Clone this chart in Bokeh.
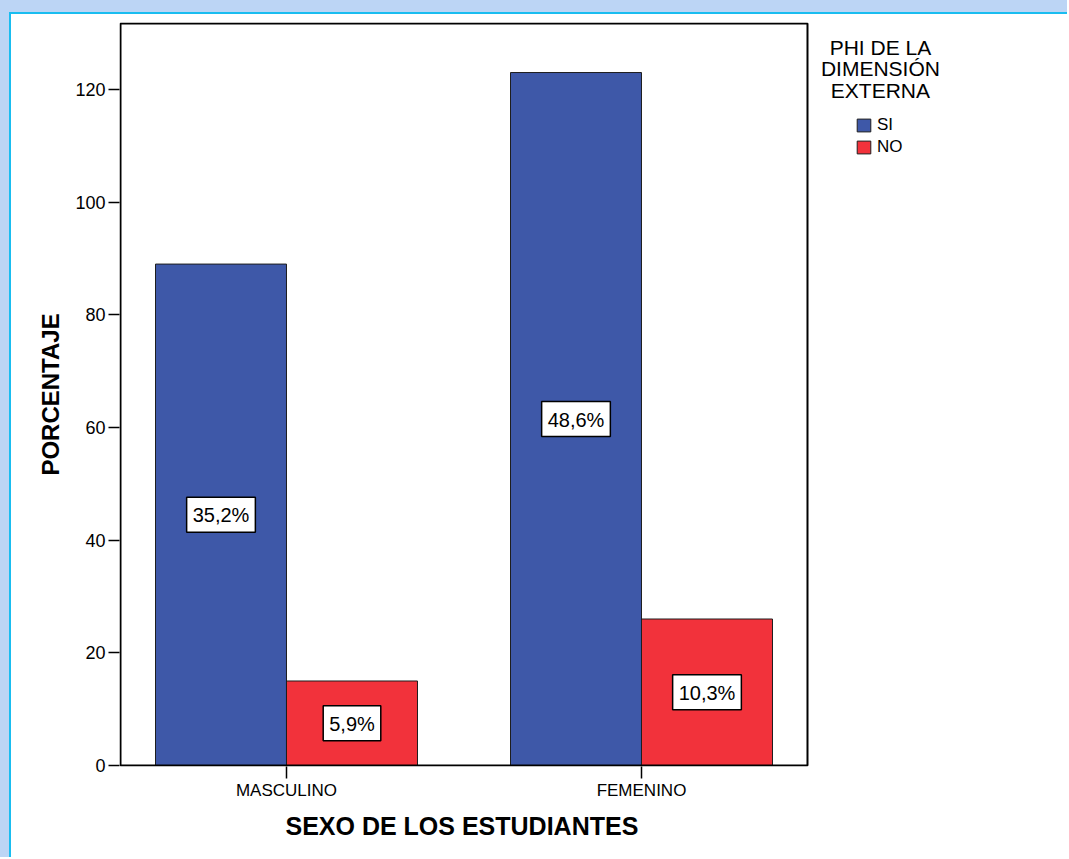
from bokeh.plotting import figure
from bokeh.models import (Range1d, FixedTicker, ColumnDataSource, Label,
                          Legend, LegendItem, Title)
from bokeh.core.properties import value
from bokeh.layouts import column
from bokeh.embed import file_html
from bokeh.resources import INLINE

# ---- data ----
categorias = ["MASCULINO", "FEMENINO"]
si = [89, 123]
no = [15, 26]
etiquetas_si = ["35,2%", "48,6%"]
etiquetas_no = ["5,9%", "10,3%"]
y_ticks = [0, 20, 40, 60, 80, 100, 120]

FONT = "Liberation Sans"
BLUE = "#3e58a8"
RED = "#f2323b"

pos = list(range(len(categorias)))
w = 0.369

# visible plotting box (data units) and pixel scale
X0, X1 = -0.4676, 1.4676
YTOP = 131.7
KX = 355.0          # px per x unit
KY = 742.0 / YTOP   # px per y unit

PW, PH = 1058, 845
p = figure(width=PW, height=PH, output_backend="svg", toolbar_location=None,
           x_range=Range1d(X0 - 1 / KX, X0 + 949 / KX),
           y_range=Range1d(-1 / KY, YTOP + 1 / KY),
           min_border_left=108, min_border_right=0, min_border_top=8,
           min_border_bottom=93)
p.background_fill_color = "white"
p.border_fill_color = "white"
p.outline_line_color = None
p.grid.visible = False

src_si = ColumnDataSource(dict(x=[c - w / 2 for c in pos], top=si, mid=[v / 2 for v in si], lab=etiquetas_si))
src_no = ColumnDataSource(dict(x=[c + w / 2 for c in pos], top=no, mid=[v / 2 for v in no], lab=etiquetas_no))

r_si = p.vbar(x="x", top="top", width=w, source=src_si, fill_color=BLUE,
              line_color="#1e1e1e", line_width=1)
r_no = p.vbar(x="x", top="top", width=w, source=src_no, fill_color=RED,
              line_color="#1e1e1e", line_width=1)

# box around the plotting area
p.quad(left=[X0], right=[X1], bottom=[0], top=[YTOP], fill_color=None,
       line_color="black", line_width=2)

for src in (src_si, src_no):
    p.text(x="x", y="mid", text="lab", source=src, text_align="center",
           text_baseline="middle", text_font=value(FONT), text_font_size="20px",
           text_color="black", background_fill_color="white",
           border_line_color="black", border_line_width=1.5,
           padding=dict(left=6, right=6, top=7, bottom=6))

# axes
p.yaxis.ticker = FixedTicker(ticks=y_ticks)
p.xaxis.ticker = FixedTicker(ticks=pos)
p.xaxis.major_label_overrides = {c: n for c, n in zip(pos, categorias)}
for ax in (p.xaxis[0], p.yaxis[0]):
    ax.axis_line_color = None
    ax.major_tick_line_color = "black"
    ax.major_tick_line_width = 1.5
    ax.major_tick_in = 0
    ax.minor_tick_line_color = None
    ax.major_label_text_font = FONT
    ax.major_label_text_color = "black"
    ax.axis_label_text_font = FONT
    ax.axis_label_text_font_style = "bold"
    ax.axis_label_text_font_size = "24px"
    ax.axis_label_text_color = "black"
p.yaxis.major_tick_out = 11
p.yaxis.major_label_text_font_size = "18px"
p.yaxis.major_label_standoff = 3
p.yaxis.axis_label = "PORCENTAJE"
p.yaxis.axis_label_standoff = 8
p.xaxis.major_tick_out = 12
p.xaxis.major_label_text_font_size = "17px"
p.xaxis.major_label_standoff = 2

# x axis title, aligned under the visible box (frame extends to the right)
p.add_layout(Title(text="SEXO DE LOS ESTUDIANTES", align="left", offset=166,
                   text_font=FONT, text_font_size="25px", text_font_style="bold",
                   text_color="black", standoff=14), "below")

# legend
legend = Legend(items=[LegendItem(label="SI", renderers=[r_si]),
                       LegendItem(label="NO", renderers=[r_no])],
                location=(736, 609), padding=0, margin=0, spacing=2,
                glyph_width=17, glyph_height=16, label_height=16, label_standoff=5,
                label_text_font=FONT, label_text_font_size="17px",
                label_text_color="black",
                border_line_alpha=0, background_fill_alpha=0)
p.add_layout(legend)

p.add_layout(Label(x=1.673, y=129.5, text="PHI DE LA\nDIMENSIÓN\nEXTERNA",
                   text_align="center", text_baseline="top", text_font=FONT,
                   text_font_size="21px", text_line_height=0.93, text_color="black"))

p.styles = {"border-left": "2px solid #19bdf0", "border-top": "2px solid #19bdf0"}
layout = column(p, styles={"border-left": "9px solid #bcd5f5",
                           "border-top": "12px solid #bcd5f5",
                           "background": "white"})

open("out.html", "w").write(file_html(layout, INLINE))
